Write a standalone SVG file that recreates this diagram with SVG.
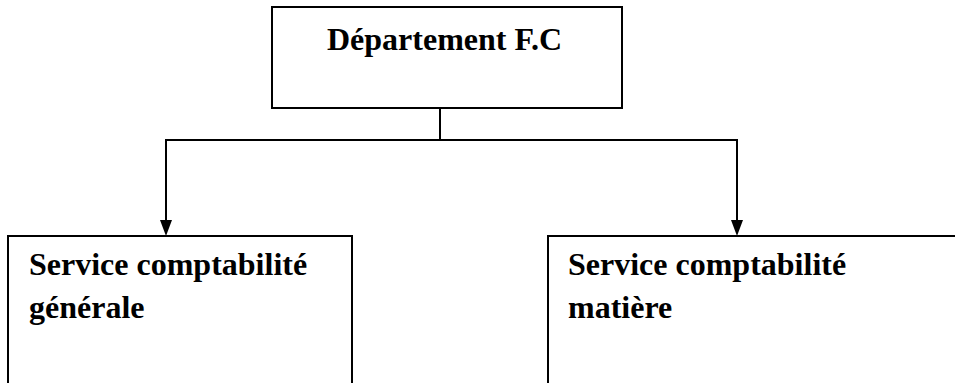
<svg xmlns="http://www.w3.org/2000/svg" width="955" height="383" viewBox="0 0 955 383">
  <style>
    .box { fill: #fff; stroke: #000; stroke-width: 2; }
    .lbl { font-family: "Liberation Serif", "Times New Roman", serif; font-weight: bold; font-size: 32px; fill: #000; }
    .wire { fill: none; stroke: #000; stroke-width: 2; }
  </style>
  <defs>
    <marker id="arrow" markerUnits="userSpaceOnUse" markerWidth="12" markerHeight="16" refX="6" refY="16" orient="auto-start-reverse" viewBox="0 0 12 16">
      <path d="M0,0 L12,0 L6,16 Z" fill="#000"/>
    </marker>
  </defs>
  <rect width="955" height="383" fill="#fff"/>

  <g id="departement">
    <rect class="box" x="272" y="7" width="350" height="101"/>
    <text class="lbl" x="327" y="50">Département F.C</text>
  </g>

  <g id="service-generale">
    <rect class="box" x="8" y="236" width="344" height="160"/>
    <text class="lbl" x="29" y="275">Service comptabilité</text>
    <text class="lbl" x="29" y="318">générale</text>
  </g>

  <g id="service-matiere">
    <rect class="box" x="548" y="236" width="420" height="160"/>
    <text class="lbl" x="568" y="275">Service comptabilité</text>
    <text class="lbl" x="568" y="318">matière</text>
  </g>

  <g id="connectors">
    <path class="wire" d="M440,108 V140"/>
    <path class="wire" d="M440,140 H166 V220" />
    <path class="wire" d="M440,140 H737 V220" />
    <path d="M160,220 L172,220 L166,236 Z" fill="#000"/>
    <path d="M731,220 L743,220 L737,236 Z" fill="#000"/>
  </g>
</svg>
